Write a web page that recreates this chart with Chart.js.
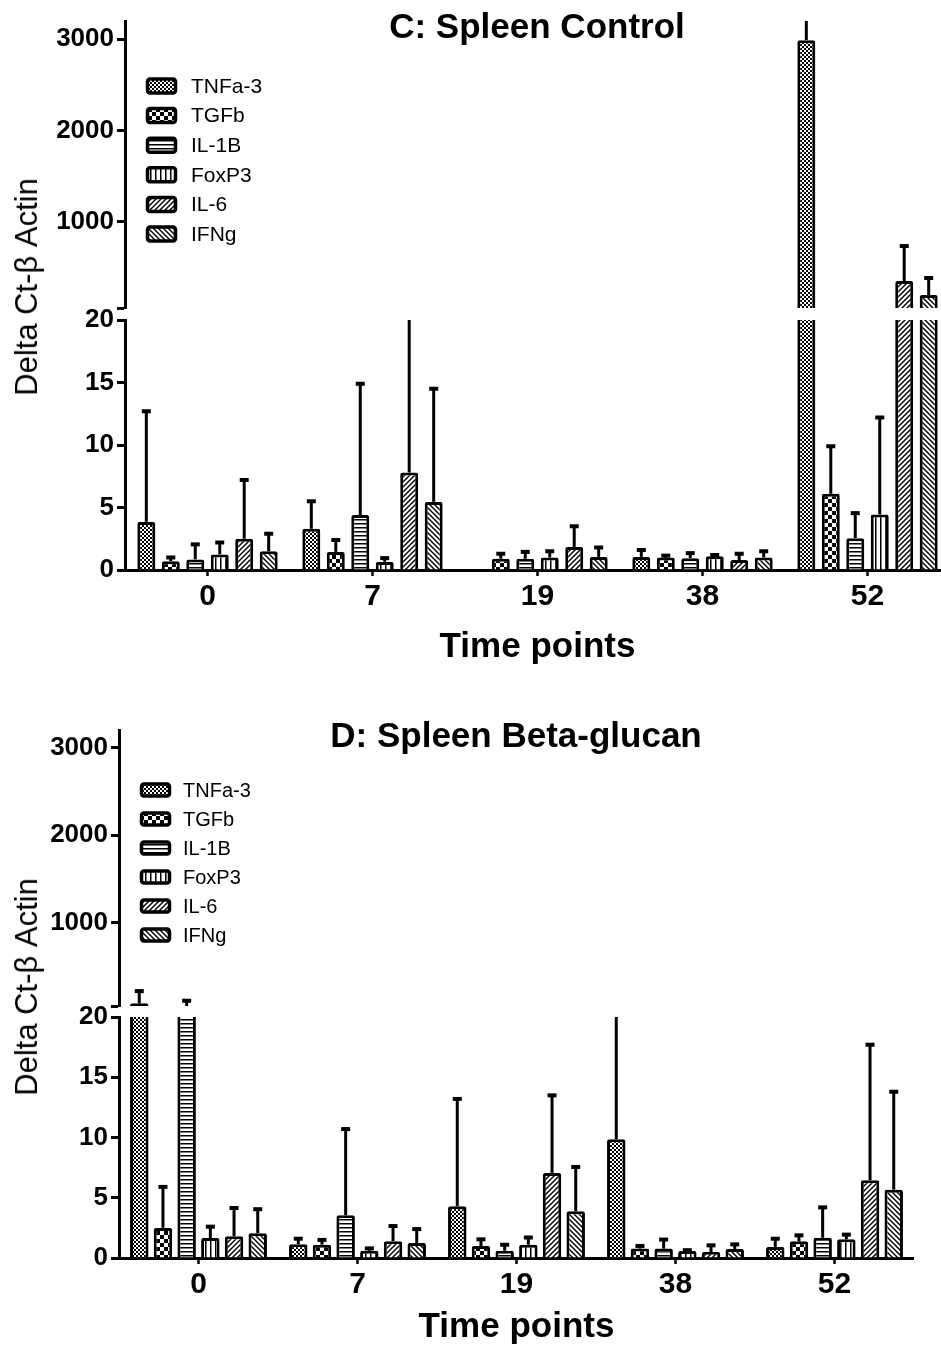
<!DOCTYPE html>
<html>
<head>
<meta charset="utf-8">
<script src="https://cdn.jsdelivr.net/npm/chart.js@4.4.1/dist/chart.umd.min.js"></script>
<style>
    html, body { margin: 0; padding: 0; width: 941px; height: 1347px; overflow: hidden; background: #fff; }
    canvas { position: absolute; left: 0; }
    .title { position: absolute; font: bold 35px 'Liberation Sans', Arial, sans-serif; transform: translate(-50%, -50%); white-space: nowrap; }
    .ylabel { position: absolute; font: 31px 'Liberation Sans', Arial, sans-serif; transform: translate(-50%, -50%) rotate(-90deg); white-space: nowrap; }
</style>
</head>
<body>
<canvas id="cUpper" width="950" height="310" style="top:0px"></canvas>
<canvas id="cLower" width="950" height="395" style="top:295px"></canvas>
<canvas id="dUpper" width="914" height="310" style="top:700px"></canvas>
<canvas id="dLower" width="914" height="352" style="top:995px"></canvas>
<div class="title" style="left:537px; top:26px">C: Spleen Control</div>
<div class="title" style="left:516px; top:735px">D: Spleen Beta-glucan</div>
<div class="ylabel" style="left:27px; top:287px">Delta Ct-β Actin</div>
<div class="ylabel" style="left:27px; top:987px">Delta Ct-β Actin</div>
<script>
const FONT = "'Liberation Sans', Arial, sans-serif";

// Categories and series
const timePoints = ['0', '7', '19', '38', '52'];
const genes = ['TNFa-3', 'TGFb', 'IL-1B', 'FoxP3', 'IL-6', 'IFNg'];
const genePatterns = ['fineCheck', 'bigCheck', 'hLines', 'vLines', 'fDiag', 'bDiag'];

// Broken y axis: lower segment 0-20, upper segment 50-3200
const lowerTicks = [0, 5, 10, 15, 20];
const upperTicks = [1000, 2000, 3000];
const LOWER_MAX = 20;
const UPPER_MIN = 50;
const UPPER_MAX = 3200;

// Panel C: spleen control, means per time point
const controlTNFa = [3.85, 3.3, null, 1.05, 2990];
const controlTGFb = [0.7, 1.45, 0.9, 1.0, 6.1];
const controlIL1B = [0.85, 4.4, 0.9, 0.95, 2.55];
const controlFoxP3 = [1.25, 0.65, 1.0, 1.1, 4.45];
const controlIL6 = [2.5, 7.8, 1.85, 0.8, 346];
const controlIFNg = [1.5, 5.45, 1.05, 1.0, 193];
// Panel C: top of error bars (mean + SD)
const controlTNFaErr = [12.7, 5.5, null, 1.6, 3300];
const controlTGFbErr = [1.0, 2.4, 1.3, 1.15, 9.9];
const controlIL1BErr = [2.05, 14.9, 1.45, 1.35, 4.55];
const controlFoxP3Err = [2.2, 0.95, 1.5, 1.2, 12.2];
const controlIL6Err = [7.2, 30, 3.5, 1.3, 730];
const controlIFNgErr = [2.9, 14.5, 1.8, 1.5, 379];

// Panel D: spleen beta-glucan, means per time point
const betaTNFa = [80, 1.15, 4.3, 9.85, 0.92];
const betaTGFb = [2.5, 1.1, 1.0, 0.78, 1.38];
const betaIL1B = [40, 3.55, 0.6, 0.78, 1.68];
const betaFoxP3 = [1.65, 0.6, 1.1, 0.58, 1.55];
const betaIL6 = [1.8, 1.4, 7.05, 0.5, 6.45];
const betaIFNg = [2.05, 1.25, 3.88, 0.75, 5.67];
// Panel D: top of error bars (mean + SD)
const betaTNFaErr = [220, 1.6, 13.2, 25, 1.6];
const betaTGFbErr = [5.9, 1.5, 1.55, 1.0, 1.88];
const betaIL1BErr = [110, 10.7, 1.1, 1.53, 4.2];
const betaFoxP3Err = [2.6, 0.8, 1.7, 0.65, 1.94];
const betaIL6Err = [4.15, 2.65, 13.5, 1.05, 17.7];
const betaIFNgErr = [4.05, 2.4, 7.55, 1.13, 13.8];

// Build a small black/white fill pattern
function makePattern(kind) {
    const size = { fineCheck: 4, bigCheck: 8, hLines: 4, vLines: 5, fDiag: 5, bDiag: 5 }[kind];
    const c = document.createElement('canvas');
    c.width = size;
    c.height = size;
    const g = c.getContext('2d');
    g.fillStyle = '#fff';
    g.fillRect(0, 0, size, size);
    g.fillStyle = '#000';
    g.strokeStyle = '#000';
    if (kind === 'fineCheck') {
        g.fillRect(0, 0, 2, 2);
        g.fillRect(2, 2, 2, 2);
    } else if (kind === 'bigCheck') {
        g.fillRect(0, 0, 4, 4);
        g.fillRect(4, 4, 4, 4);
    } else if (kind === 'hLines') {
        g.fillRect(0, 0, size, 1.5);
    } else if (kind === 'vLines') {
        g.fillRect(0, 0, 1.5, size);
    } else {
        g.lineWidth = 1.4;
        const s = size;
        const segs = kind === 'fDiag'
            ? [[0, s, s, 0], [-1, 1, 1, -1], [s - 1, s + 1, s + 1, s - 1]]
            : [[0, 0, s, s], [-1, s - 1, 1, s + 1], [s - 1, -1, s + 1, 1]];
        segs.forEach(([a, b, x2, y2]) => {
            g.beginPath();
            g.moveTo(a, b);
            g.lineTo(x2, y2);
            g.stroke();
        });
    }
    return g.createPattern(c, 'repeat');
}

// Error bars: vertical line from bar top to mean+SD, with a cap
const errorBars = {
    id: 'errorBars',
    afterDatasetsDraw(chart) {
        const { ctx, chartArea, scales: { y } } = chart;
        ctx.save();
        ctx.beginPath();
        ctx.rect(chartArea.left, chartArea.top, chartArea.width, chartArea.height);
        ctx.clip();
        ctx.strokeStyle = '#000';
        chart.data.datasets.forEach((ds, i) => {
            const meta = chart.getDatasetMeta(i);
            meta.data.forEach((bar, j) => {
                const mean = ds.means[j];
                const hi = ds.err[j];
                if (mean == null || hi == null || isNaN(bar.x)) return;
                // nothing of this error bar falls inside this segment
                if (hi <= y.min || mean >= y.max) return;
                const yTop = y.getPixelForValue(hi);
                const yBase = y.getPixelForValue(Math.max(mean, y.min));
                ctx.lineWidth = 3;
                ctx.beginPath();
                ctx.moveTo(bar.x, yBase);
                ctx.lineTo(bar.x, yTop);
                ctx.stroke();
                ctx.lineWidth = 4;
                ctx.beginPath();
                ctx.moveTo(bar.x - 4.5, yTop);
                ctx.lineTo(bar.x + 4.5, yTop);
                ctx.stroke();
            });
        });
        ctx.restore();
    }
};

// Legend drawn inside the upper segment
const legendBoxes = {
    id: 'legendBoxes',
    afterDraw(chart, args, opts) {
        if (!opts.show) return;
        const { ctx, chartArea } = chart;
        ctx.save();
        ctx.font = opts.fontSize + 'px ' + FONT;
        ctx.textBaseline = 'middle';
        chart.data.datasets.forEach((ds, i) => {
            const x = chartArea.left + opts.dx;
            const cy = chartArea.top + opts.dy + i * opts.gap;
            const w = 31, h = opts.boxH;
            ctx.beginPath();
            ctx.roundRect(x + 1.5, cy - h / 2 + 1.5, w - 3, h - 3, 2.5);
            ctx.fillStyle = ds.backgroundColor;
            ctx.fill();
            ctx.lineWidth = 3.5;
            ctx.strokeStyle = '#000';
            ctx.stroke();
            ctx.fillStyle = '#000';
            ctx.fillText(ds.label, x + opts.textDx, cy + 1);
        });
        ctx.restore();
    }
};

function yAxis(p, min, max, tickValues) {
    return {
        min: min,
        max: max,
        z: 1,
        afterFit: (scale) => {
            // fixed axis width, and no extra room for end labels
            scale.width = p.left;
            scale.paddingTop = 0;
            scale.paddingBottom = 0;
        },
        afterBuildTicks: (scale) => { scale.ticks = tickValues.map(v => ({ value: v })); },
        ticks: {
            color: '#000',
            padding: 3,
            font: { family: FONT, size: 26, weight: 'bold' },
            callback: (v) => (v === UPPER_MIN ? '' : String(v))
        },
        grid: { drawOnChartArea: false, tickLength: 8, tickWidth: 3, tickColor: '#000' },
        border: { color: '#000', width: 3 }
    };
}

function makeDatasets(p, keep) {
    const patterns = genePatterns.map(makePattern);
    return genes.map((g, i) => ({
        label: g,
        data: p.means[i].map(v => (v != null && keep(v) ? v : null)),
        means: p.means[i],
        err: p.errs[i],
        backgroundColor: patterns[i],
        borderColor: '#000',
        borderWidth: 3,
        borderSkipped: 'start',
        borderRadius: 2,
        clip: 0,
        categoryPercentage: p.catPct,
        barPercentage: p.barPct
    }));
}

function buildPanel(p) {
    // upper segment with legend
    new Chart(document.getElementById(p.upperId), {
        type: 'bar',
        data: { labels: timePoints, datasets: makeDatasets(p, v => v > UPPER_MIN) },
        options: {
            responsive: false,
            animation: false,
            layout: { padding: { top: p.upperPad[0], bottom: p.upperPad[1], left: 0, right: 0 } },
            plugins: {
                legend: { display: false },
                tooltip: { enabled: false },
                legendBoxes: Object.assign({ show: true }, p.legend)
            },
            scales: {
                x: { display: false, offset: true },
                y: yAxis(p, UPPER_MIN, UPPER_MAX, [UPPER_MIN].concat(upperTicks))
            }
        },
        plugins: [errorBars, legendBoxes]
    });

    // lower segment with the category axis
    new Chart(document.getElementById(p.lowerId), {
        type: 'bar',
        data: { labels: timePoints, datasets: makeDatasets(p, () => true) },
        options: {
            responsive: false,
            animation: false,
            layout: { padding: { top: p.lowerPad, bottom: 0, left: 0, right: 0 } },
            plugins: {
                legend: { display: false },
                tooltip: { enabled: false },
                legendBoxes: { show: false }
            },
            scales: {
                x: {
                    offset: true,
                    z: 1,
                    afterFit: (scale) => { scale.height = p.xAxisH; },
                    ticks: { color: '#000', padding: 3, font: { family: FONT, size: 30, weight: 'bold' } },
                    grid: { offset: false, drawOnChartArea: false, tickLength: 6, tickWidth: 2.5, tickColor: '#000' },
                    border: { color: '#000', width: 3 },
                    title: {
                        display: true,
                        text: 'Time points',
                        color: '#000',
                        font: { family: FONT, size: 35, weight: 'bold', lineHeight: 1.1 },
                        padding: { top: 0, bottom: p.titlePadB }
                    }
                },
                y: yAxis(p, 0, LOWER_MAX, lowerTicks)
            }
        },
        plugins: [errorBars, legendBoxes]
    });
}

buildPanel({
    upperId: 'cUpper', lowerId: 'cLower',
    left: 125, upperPad: [21, 2], lowerPad: 25, xAxisH: 120, titlePadB: 23,
    catPct: 0.89, barPct: 0.735,
    legend: { dx: 21, dy: 65, gap: 29.6, boxH: 17, textDx: 45, fontSize: 21 },
    means: [controlTNFa, controlTGFb, controlIL1B, controlFoxP3, controlIL6, controlIFNg],
    errs: [controlTNFaErr, controlTGFbErr, controlIL1BErr, controlFoxP3Err, controlIL6Err, controlIFNgErr]
});

buildPanel({
    upperId: 'dUpper', lowerId: 'dLower',
    left: 119, upperPad: [30, 4], lowerPad: 22, xAxisH: 89, titlePadB: 0,
    catPct: 0.894, barPct: 0.78,
    legend: { dx: 21, dy: 60, gap: 29, boxH: 15, textDx: 43, fontSize: 20 },
    means: [betaTNFa, betaTGFb, betaIL1B, betaFoxP3, betaIL6, betaIFNg],
    errs: [betaTNFaErr, betaTGFbErr, betaIL1BErr, betaFoxP3Err, betaIL6Err, betaIFNgErr]
});
</script>
</body>
</html>
